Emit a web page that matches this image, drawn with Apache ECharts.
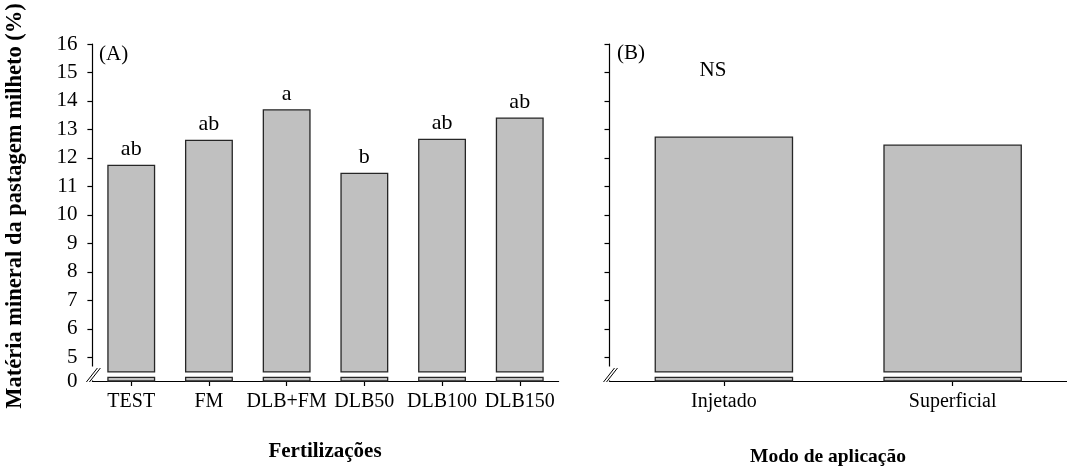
<!DOCTYPE html>
<html>
<head>
<meta charset="utf-8">
<script src="https://cdn.jsdelivr.net/npm/echarts@6/dist/echarts.min.js"></script>
<style>
  html, body { margin: 0; padding: 0; background: #fff; }
  #chart { width: 1067px; height: 470px; }
</style>
</head>
<body>
<div id="chart"></div>
<script>
// Panel A: fertilization treatments
const fertCategories = ['TEST', 'FM', 'DLB+FM', 'DLB50', 'DLB100', 'DLB150'];
const fertValues = [11.74, 12.62, 13.69, 11.46, 12.65, 13.40];
const fertLetters = ['ab', 'ab', 'a', 'b', 'ab', 'ab'];

// Panel B: application method
const modeCategories = ['Injetado', 'Superficial'];
const modeValues = [12.73, 12.45];

// Y axis tick labels (upper segment) and the broken-axis origin label
const yTickValues = [5, 6, 7, 8, 9, 10, 11, 12, 13, 14, 15, 16];
const yZeroLabel = '0';

// Broken axis: the bottom of the axis stands for 0, the segment above starts at 5
const AXIS_MIN = 4.17;
const AXIS_MAX = 16;
const STUB_TOP = 4.30;   // top of the short stub drawn at the origin
const BAR_BASE = 4.49;   // base of the upper bar segment

const FONT = '"Liberation Serif", "Times New Roman", serif';
const BAR_FILL = '#c0c0c0';
const BAR_STROKE = '#262626';

const chart = echarts.init(document.getElementById('chart'), null, { renderer: 'canvas' });

function makeBarRenderer(letters) {
  return function (params, api) {
    const cat = api.value(0);
    const val = api.value(1);
    const bw = api.size([1, 0])[0] * 0.6;
    const top = api.coord([cat, val]);
    const base = api.coord([cat, BAR_BASE]);
    const stubTop = api.coord([cat, STUB_TOP]);
    const stubBottom = api.coord([cat, AXIS_MIN]);
    const style = { fill: BAR_FILL, stroke: BAR_STROKE, lineWidth: 1.3 };
    const children = [
      {
        type: 'rect',
        shape: { x: top[0] - bw / 2, y: top[1], width: bw, height: base[1] - top[1] },
        style: style
      },
      {
        type: 'rect',
        shape: { x: top[0] - bw / 2, y: stubTop[1], width: bw, height: stubBottom[1] - stubTop[1] },
        style: style
      }
    ];
    if (letters) {
      children.push({
        type: 'text',
        x: top[0],
        y: top[1] - 5,
        style: {
          text: letters[params.dataIndex],
          font: '22px ' + FONT,
          fill: '#000',
          align: 'center',
          verticalAlign: 'bottom'
        }
      });
    }
    return { type: 'group', children: children };
  };
}

function yAxisFor(gridIndex, showLabels) {
  return {
    type: 'value',
    gridIndex: gridIndex,
    min: AXIS_MIN,
    max: AXIS_MAX,
    splitLine: { show: false },
    axisLine: { show: true, lineStyle: { color: '#000', width: 1.2 } },
    axisTick: {
      show: true,
      inside: false,
      length: 5,
      customValues: yTickValues,
      lineStyle: { color: '#000', width: 1.2 }
    },
    axisLabel: {
      show: showLabels,
      customValues: [AXIS_MIN].concat(yTickValues),
      formatter: function (v) { return v < 5 ? yZeroLabel : String(Math.round(v)); },
      margin: 15,
      color: '#000',
      fontFamily: FONT,
      fontSize: 21
    }
  };
}

function xAxisFor(gridIndex, cats) {
  return {
    type: 'category',
    gridIndex: gridIndex,
    data: cats,
    axisLine: { show: true, lineStyle: { color: '#000', width: 1.2 } },
    axisTick: { show: true, alignWithLabel: true, length: 5, lineStyle: { color: '#000', width: 1.2 } },
    axisLabel: {
      interval: 0,
      margin: 11,
      color: '#000',
      fontFamily: FONT,
      fontSize: 20
    }
  };
}

// Break marks: white gap in the y axis plus two parallel slashes
function breakMarks(axisX) {
  const yBottom = 381;
  return [
    { type: 'rect', shape: { x: axisX - 3, y: 366.5, width: 6, height: 14 }, style: { fill: '#fff' }, z: 100 },
    { type: 'line', shape: { x1: axisX - 6, y1: yBottom + 1, x2: axisX + 5, y2: 368 }, style: { stroke: '#000', lineWidth: 1 }, z: 101 },
    { type: 'line', shape: { x1: axisX - 3, y1: yBottom + 1, x2: axisX + 8, y2: 368 }, style: { stroke: '#000', lineWidth: 1 }, z: 101 }
  ];
}

const option = {
  backgroundColor: '#fff',
  animation: false,
  grid: [
    { left: 92.4, top: 44, width: 466.2, bottom: 89 },
    { left: 609.5, top: 44, width: 466, bottom: 89 }
  ],
  xAxis: [xAxisFor(0, fertCategories), xAxisFor(1, modeCategories)],
  yAxis: [yAxisFor(0, true), yAxisFor(1, false)],
  series: [
    {
      type: 'custom',
      xAxisIndex: 0,
      yAxisIndex: 0,
      renderItem: makeBarRenderer(fertLetters),
      data: fertValues.map(function (v, i) { return [i, v]; }),
      clip: false
    },
    {
      type: 'custom',
      xAxisIndex: 1,
      yAxisIndex: 1,
      renderItem: makeBarRenderer(null),
      data: modeValues.map(function (v, i) { return [i, v]; }),
      clip: false
    }
  ],
  graphic: [
    {
      type: 'text',
      x: 15,
      y: 206,
      rotation: Math.PI / 2,
      style: {
        text: 'Matéria mineral da pastagem milheto (%)',
        font: 'bold 22.5px ' + FONT,
        fill: '#000',
        align: 'center',
        verticalAlign: 'middle'
      }
    },
    {
      type: 'text', x: 99, y: 54,
      style: { text: '(A)', font: '21px ' + FONT, fill: '#000', align: 'left', verticalAlign: 'middle' }
    },
    {
      type: 'text', x: 617, y: 53,
      style: { text: '(B)', font: '21px ' + FONT, fill: '#000', align: 'left', verticalAlign: 'middle' }
    },
    {
      type: 'text', x: 713, y: 70,
      style: { text: 'NS', font: '21px ' + FONT, fill: '#000', align: 'center', verticalAlign: 'middle' }
    },
    {
      type: 'text', x: 325, y: 452,
      style: { text: 'Fertilizações', font: 'bold 21px ' + FONT, fill: '#000', align: 'center', verticalAlign: 'middle' }
    },
    {
      type: 'text', x: 828, y: 457,
      style: { text: 'Modo de aplicação', font: 'bold 19.5px ' + FONT, fill: '#000', align: 'center', verticalAlign: 'middle' }
    }
  ].concat(breakMarks(92.4), breakMarks(609.5))
};

chart.setOption(option);
</script>
</body>
</html>
